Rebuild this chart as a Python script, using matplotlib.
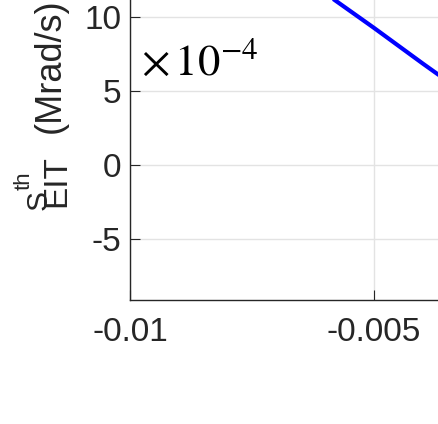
import numpy as np
import matplotlib
matplotlib.use("Agg")
import matplotlib.pyplot as plt

# ─── Dati ────────────────────────────────────────────────────────────────────
x_vals = [-0.006, -0.005, -0.004, -0.003]
y_vals = [11.6, 9.26, 6.85, 4.5]          # in unita' di 1e-4
x_ticks = [-0.01, -0.005]
x_labels = ["-0.01", "-0.005"]
y_ticks = [-5, 0, 5, 10]
y_labels = ["-5", "0", "5", "10"]

plt.rcParams["font.family"] = ["Liberation Sans", "DejaVu Sans"]
plt.rcParams["mathtext.fontset"] = "stix"

W, H = 439, 424
fig = plt.figure(figsize=(W / 100, H / 100), dpi=100)
ax = fig.add_axes([130 / W, 124 / H, 1 - 130 / W, 1 - 124 / H])

ax.plot(x_vals, y_vals, color="#0000ff", lw=3.0, solid_capstyle="butt")

ax.set_xlim(-0.01, -0.00367)
ax.set_ylim(-9.12, 11.15)
ax.set_xticks(x_ticks)
ax.set_xticklabels(x_labels)
ax.set_yticks(y_ticks)
ax.set_yticklabels(y_labels)

grigio = "#262626"
ax.grid(True, color="#e3e3e3", lw=1.0)
ax.set_axisbelow(True)
for s in ["top", "right"]:
    ax.spines[s].set_visible(False)
for s in ["left", "bottom"]:
    ax.spines[s].set_color(grigio)
    ax.spines[s].set_linewidth(1.0)
ax.tick_params(direction="in", length=7, width=0.8, colors=grigio,
               labelsize=24, labelcolor=grigio)
ax.tick_params(axis="x", pad=12)
ax.tick_params(axis="y", pad=6)


def pezzo(testo, xb, ys, size):
    # testo ruotato: xb = linea di base (px), ys = inizio del testo (px dall'alto)
    fig.text(xb / W, 1 - ys / H, testo, rotation=90, rotation_mode="anchor",
             ha="left", va="baseline", fontsize=size, color=grigio)


# etichetta asse y: S^th_EIT (Mrad/s)
pezzo("S", 47, 210, 21.5)
pezzo("th", 30, 190, 16)
pezzo("EIT", 65, 207, 24)
pezzo("(Mrad/s)", 60, 133, 26)

fig.text(141 / W, 1 - 75 / H, r"$\times\,10^{-4}$", fontsize=32,
         ha="left", va="baseline", color="black")

fig.savefig("out.png", dpi=100)
